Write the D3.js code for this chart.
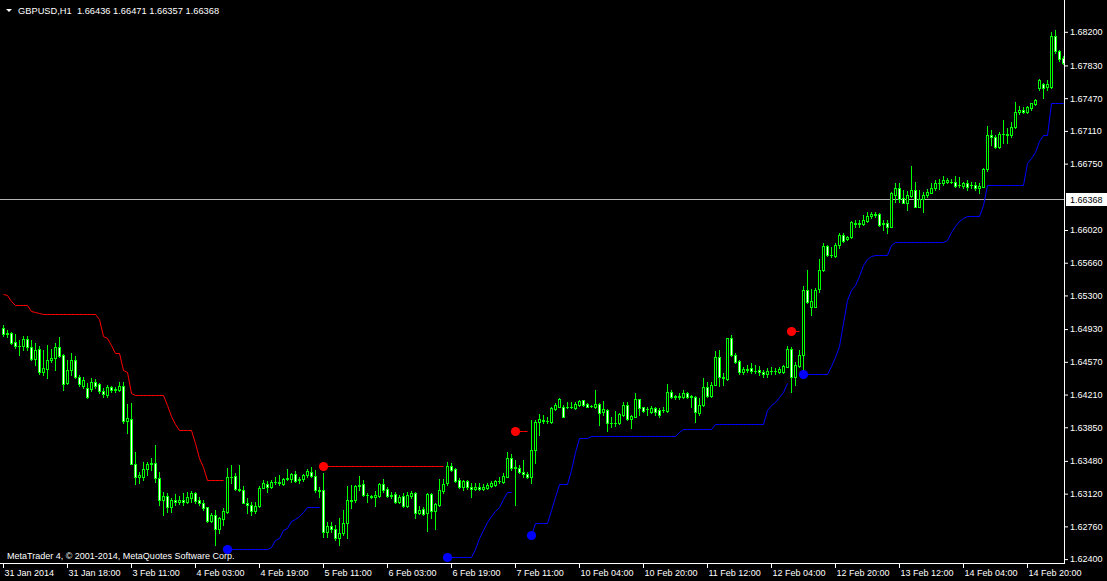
<!DOCTYPE html>
<html><head><meta charset="utf-8">
<script src="https://cdn.jsdelivr.net/npm/d3@7"></script>
<style>
html,body{margin:0;padding:0;background:#000;overflow:hidden}
svg{display:block}
text{font-family:"Liberation Sans",Arial,sans-serif;font-size:9px;fill:#fff}
</style>
</head><body>
<svg id="chart" width="1107" height="581"></svg>
<script>
const symbolTitle = "GBPUSD,H1  1.66436 1.66471 1.66357 1.66368";
const footerText = "MetaTrader 4, \u00a9 2001-2014, MetaQuotes Software Corp.";
const currentPrice = 1.66368;

const opens = [1.64942,1.64876,1.64887,1.64788,1.64744,1.64744,1.64821,1.64733,1.64601,1.64711,
1.64458,1.64491,1.64590,1.64612,1.64733,1.64645,1.64337,1.64480,1.64590,1.64403,
1.64304,1.64282,1.64271,1.64348,1.64326,1.64249,1.64205,1.64293,1.64260,1.64260,
1.64304,1.63919,1.63941,1.63446,1.63303,1.63303,1.63391,1.63446,1.63457,1.63292,
1.63050,1.63094,1.62973,1.63050,1.63028,1.63050,1.63028,1.63072,1.63127,1.63050,
1.63017,1.62973,1.62819,1.62885,1.62731,1.62841,1.62918,1.63303,1.63314,1.63171,
1.63160,1.63017,1.62995,1.62929,1.62984,1.63182,1.63226,1.63193,1.63248,1.63248,
1.63226,1.63281,1.63281,1.63336,1.63270,1.63281,1.63325,1.63358,1.63314,1.63160,
1.63160,1.62698,1.62764,1.62731,1.62632,1.62687,1.62797,1.63050,1.63050,1.63204,
1.63226,1.63105,1.63094,1.63083,1.63094,1.63226,1.63171,1.63094,1.63116,1.63028,
1.63094,1.62984,1.63094,1.63127,1.62907,1.62951,1.62907,1.63116,1.62929,1.62995,
1.63149,1.63237,1.63424,1.63391,1.63270,1.63193,1.63259,1.63193,1.63171,1.63193,
1.63171,1.63182,1.63204,1.63215,1.63259,1.63248,1.63303,1.63512,1.63402,1.63402,
1.63358,1.63336,1.63303,1.63600,1.63908,1.63930,1.63919,1.63908,1.64051,1.64073,
1.64073,1.64073,1.64073,1.64062,1.64095,1.64150,1.64106,1.64084,1.64073,1.64106,
1.64018,1.64040,1.63897,1.63897,1.63897,1.63985,1.64095,1.63941,1.63963,1.64161,
1.64073,1.64051,1.64018,1.64062,1.64040,1.64040,1.64029,1.64238,1.64183,1.64194,
1.64183,1.64227,1.64194,1.64183,1.64007,1.64095,1.64293,1.64194,1.64315,1.64623,
1.64403,1.64381,1.64832,1.64645,1.64579,1.64458,1.64491,1.64502,1.64469,1.64480,
1.64458,1.64436,1.64469,1.64469,1.64458,1.64458,1.64513,1.64711,1.64403,1.64524,
1.64645,1.65360,1.65173,1.65173,1.65371,1.65580,1.65844,1.65745,1.65734,1.65855,
1.65965,1.65921,1.65943,1.66097,1.66086,1.66086,1.66119,1.66174,1.66196,1.66196,
1.66086,1.66097,1.66053,1.66405,1.66482,1.66372,1.66317,1.66394,1.66460,1.66273,
1.66361,1.66405,1.66427,1.66482,1.66537,1.66537,1.66548,1.66548,1.66548,1.66515,
1.66504,1.66537,1.66515,1.66515,1.66482,1.66493,1.66691,1.67065,1.67043,1.66933,
1.67076,1.67065,1.67065,1.67153,1.67318,1.67340,1.67318,1.67362,1.67406,1.67582,
1.67626,1.67593,1.67593,1.68154,1.67989,1.67912];

const highs = [1.64975,1.64920,1.64898,1.64876,1.64810,1.64854,1.64854,1.64810,1.64777,1.64744,
1.64700,1.64755,1.64711,1.64777,1.64843,1.64656,1.64590,1.64667,1.64634,1.64425,
1.64403,1.64337,1.64392,1.64381,1.64337,1.64282,1.64315,1.64304,1.64293,1.64348,
1.64348,1.64106,1.64117,1.63578,1.63358,1.63468,1.63468,1.63512,1.63655,1.63358,
1.63138,1.63127,1.63072,1.63116,1.63094,1.63127,1.63138,1.63149,1.63138,1.63083,
1.63050,1.62973,1.62907,1.62940,1.62863,1.62962,1.63402,1.63435,1.63347,1.63435,
1.63204,1.63072,1.63028,1.63028,1.63204,1.63270,1.63259,1.63270,1.63303,1.63325,
1.63292,1.63391,1.63347,1.63369,1.63303,1.63336,1.63391,1.63413,1.63380,1.63193,
1.63347,1.62808,1.62808,1.62775,1.62852,1.62940,1.63204,1.63215,1.63215,1.63314,
1.63270,1.63127,1.63105,1.63149,1.63237,1.63281,1.63193,1.63138,1.63138,1.63105,
1.63127,1.63138,1.63149,1.63138,1.62984,1.62973,1.63127,1.63127,1.63017,1.63281,
1.63281,1.63468,1.63457,1.63402,1.63292,1.63270,1.63270,1.63237,1.63237,1.63237,
1.63226,1.63237,1.63259,1.63270,1.63303,1.63347,1.63578,1.63556,1.63490,1.63435,
1.63490,1.63358,1.63930,1.63930,1.63996,1.63985,1.63963,1.64073,1.64117,1.64172,
1.64095,1.64128,1.64128,1.64128,1.64150,1.64150,1.64117,1.64095,1.64260,1.64117,
1.64139,1.64051,1.63963,1.64029,1.64007,1.64128,1.64128,1.63985,1.64227,1.64161,
1.64073,1.64073,1.64084,1.64073,1.64062,1.64073,1.64326,1.64260,1.64205,1.64227,
1.64260,1.64238,1.64205,1.64194,1.64172,1.64392,1.64348,1.64348,1.64689,1.64700,
1.64447,1.64832,1.64865,1.64667,1.64590,1.64513,1.64535,1.64557,1.64535,1.64524,
1.64480,1.64502,1.64513,1.64502,1.64513,1.64535,1.64744,1.64733,1.64568,1.64700,
1.65404,1.65580,1.65371,1.65382,1.65701,1.65877,1.65855,1.65833,1.65877,1.65987,
1.65987,1.65954,1.66119,1.66130,1.66130,1.66185,1.66218,1.66218,1.66218,1.66207,
1.66130,1.66130,1.66438,1.66537,1.66537,1.66460,1.66449,1.66724,1.66548,1.66460,
1.66438,1.66471,1.66537,1.66570,1.66581,1.66614,1.66592,1.66581,1.66614,1.66603,
1.66548,1.66570,1.66548,1.66548,1.66537,1.66702,1.67164,1.67120,1.67065,1.67098,
1.67230,1.67142,1.67208,1.67428,1.67384,1.67373,1.67384,1.67417,1.67461,1.67681,
1.67637,1.67670,1.68198,1.68220,1.68000,1.67934];

const lows = [1.64854,1.64843,1.64766,1.64722,1.64645,1.64700,1.64700,1.64590,1.64535,1.64436,
1.64425,1.64392,1.64568,1.64480,1.64623,1.64260,1.64326,1.64425,1.64392,1.64304,
1.64282,1.64172,1.64249,1.64282,1.64227,1.64183,1.64183,1.64238,1.64238,1.64249,
1.63897,1.63787,1.63446,1.63226,1.63237,1.63270,1.63325,1.63380,1.63248,1.62995,
1.62885,1.62918,1.62918,1.62995,1.63006,1.62995,1.63017,1.63028,1.63017,1.62995,
1.62940,1.62808,1.62808,1.62555,1.62687,1.62775,1.62907,1.63237,1.63160,1.63149,
1.63017,1.62907,1.62885,1.62907,1.62973,1.63182,1.63138,1.63182,1.63226,1.63215,
1.63215,1.63270,1.63248,1.63248,1.63237,1.63259,1.63303,1.63303,1.63138,1.63083,
1.62643,1.62643,1.62698,1.62610,1.62555,1.62665,1.62632,1.62962,1.63028,1.63160,
1.63094,1.63028,1.63072,1.62984,1.63083,1.63138,1.63083,1.63072,1.63017,1.63017,
1.62973,1.62973,1.63072,1.62852,1.62896,1.62885,1.62709,1.62852,1.62731,1.62984,
1.63127,1.63215,1.63369,1.63248,1.63182,1.63160,1.63171,1.63083,1.63160,1.63160,
1.63160,1.63171,1.63193,1.63204,1.63237,1.63237,1.63303,1.63380,1.62995,1.63347,
1.63303,1.63292,1.63237,1.63457,1.63765,1.63897,1.63897,1.63897,1.64040,1.64073,
1.63963,1.64062,1.64062,1.64051,1.64084,1.64084,1.64073,1.64073,1.64062,1.63875,
1.63985,1.63809,1.63853,1.63864,1.63886,1.63974,1.63930,1.63842,1.63963,1.63985,
1.64018,1.63985,1.64007,1.63985,1.63963,1.64018,1.64018,1.64172,1.64161,1.64161,
1.64172,1.64172,1.64073,1.63908,1.63985,1.64084,1.64183,1.64183,1.64315,1.64304,
1.64315,1.64370,1.64634,1.64557,1.64436,1.64436,1.64458,1.64447,1.64447,1.64425,
1.64403,1.64403,1.64436,1.64436,1.64447,1.64447,1.64513,1.64238,1.64315,1.64513,
1.64480,1.65217,1.65085,1.65173,1.65338,1.65569,1.65734,1.65723,1.65723,1.65822,
1.65888,1.65910,1.65932,1.66053,1.66053,1.66075,1.66108,1.66152,1.66163,1.66064,
1.66020,1.65987,1.66053,1.66328,1.66328,1.66317,1.66240,1.66383,1.66273,1.66273,
1.66218,1.66383,1.66427,1.66460,1.66471,1.66515,1.66537,1.66537,1.66493,1.66493,
1.66482,1.66460,1.66482,1.66460,1.66427,1.66493,1.66669,1.66955,1.66922,1.66922,
1.66977,1.66977,1.67043,1.67142,1.67296,1.67307,1.67307,1.67340,1.67395,1.67560,
1.67472,1.67560,1.67582,1.67967,1.67879,1.67846];

const closes = [1.64876,1.64887,1.64777,1.64744,1.64744,1.64821,1.64733,1.64601,1.64700,1.64458,
1.64502,1.64590,1.64612,1.64733,1.64634,1.64326,1.64480,1.64590,1.64403,1.64326,
1.64370,1.64183,1.64348,1.64304,1.64249,1.64216,1.64293,1.64260,1.64271,1.64304,
1.63919,1.63952,1.63446,1.63303,1.63325,1.63391,1.63446,1.63457,1.63292,1.63050,
1.63094,1.62973,1.63050,1.63028,1.63050,1.63028,1.63083,1.63127,1.63039,1.63017,
1.62962,1.62819,1.62885,1.62731,1.62852,1.62929,1.63303,1.63303,1.63171,1.63160,
1.63017,1.62995,1.62929,1.62984,1.63182,1.63237,1.63193,1.63248,1.63248,1.63237,
1.63281,1.63292,1.63336,1.63259,1.63281,1.63325,1.63369,1.63314,1.63160,1.63149,
1.62698,1.62764,1.62731,1.62632,1.62687,1.62797,1.63050,1.63039,1.63204,1.63215,
1.63105,1.63105,1.63083,1.63105,1.63226,1.63160,1.63094,1.63105,1.63028,1.63083,
1.62984,1.63105,1.63127,1.62907,1.62940,1.62896,1.63116,1.62929,1.63006,1.63160,
1.63226,1.63424,1.63380,1.63259,1.63193,1.63259,1.63193,1.63171,1.63193,1.63171,
1.63193,1.63215,1.63237,1.63259,1.63259,1.63314,1.63512,1.63402,1.63413,1.63358,
1.63336,1.63303,1.63600,1.63908,1.63941,1.63919,1.63919,1.64062,1.64095,1.64161,
1.63963,1.64073,1.64073,1.64106,1.64139,1.64095,1.64073,1.64084,1.64106,1.64007,
1.64051,1.63897,1.63897,1.63897,1.63996,1.64095,1.63941,1.63974,1.64161,1.64062,
1.64029,1.64051,1.64062,1.64018,1.63985,1.64040,1.64238,1.64183,1.64194,1.64183,
1.64227,1.64183,1.64183,1.64018,1.64095,1.64293,1.64194,1.64315,1.64623,1.64403,
1.64392,1.64832,1.64645,1.64568,1.64458,1.64491,1.64480,1.64469,1.64469,1.64458,
1.64436,1.64469,1.64469,1.64469,1.64491,1.64524,1.64711,1.64403,1.64535,1.64645,
1.65360,1.65228,1.65239,1.65360,1.65580,1.65844,1.65745,1.65745,1.65855,1.65965,
1.65899,1.65943,1.66108,1.66086,1.66097,1.66130,1.66174,1.66196,1.66185,1.66075,
1.66097,1.66053,1.66427,1.66482,1.66361,1.66317,1.66405,1.66460,1.66273,1.66361,
1.66405,1.66438,1.66482,1.66537,1.66537,1.66570,1.66570,1.66548,1.66504,1.66515,
1.66537,1.66493,1.66515,1.66482,1.66504,1.66691,1.67065,1.67043,1.66933,1.67076,
1.67076,1.67076,1.67153,1.67318,1.67340,1.67318,1.67373,1.67417,1.67450,1.67670,
1.67582,1.67626,1.68154,1.67989,1.67901,1.67857];

// trailing stop segments: [first bar index, values per bar]
const redStops = [
 [0, [1.65316,1.65305,1.65239,1.65195,1.65195,1.65195,1.65195,1.65129,1.65118,1.65107,
      1.65096,1.65096,1.65096,1.65096,1.65096,1.65096,1.65096,1.65096,1.65096,1.65096,1.65096,1.65096,1.65096,1.65096,
      1.65041,1.64854,1.64832,1.64755,1.64667,1.64667,1.64480,1.64458,1.64227,
      1.64205,1.64205,1.64205,1.64205,1.64205,1.64205,1.64205,1.64205,
      1.64095,1.63974,1.63886,1.63820,1.63820,1.63820,1.63820,1.63677,1.63512,1.63413,
      1.63270,1.63270,1.63270,1.63270,1.63270]],
 [80, [1.63424,1.63424,1.63424,1.63424,1.63424,1.63424,1.63424,1.63424,1.63424,1.63424,
       1.63424,1.63424,1.63424,1.63424,1.63424,1.63424,1.63424,1.63424,1.63424,1.63424,
       1.63424,1.63424,1.63424,1.63424,1.63424,1.63424,1.63424,1.63424,1.63424,1.63424,1.63424]],
 [128, [1.63809,1.63809,1.63809,1.63809]],
 [197, [1.64909,1.64909,1.64909]]
];
const blueStops = [
 [56, [1.62511,1.62511,1.62511,1.62511,1.62511,1.62511,1.62511,1.62511,1.62511,1.62511,1.62511,
       1.62533,1.62610,1.62632,1.62720,1.62742,1.62819,1.62841,1.62874,1.62918,
       1.62973,1.62973,1.62973,1.62973]],
 [111, [1.62423,1.62423,1.62423,1.62423,1.62423,1.62423,1.62423,
        1.62511,1.62632,1.62720,1.62808,1.62874,1.62929,1.62973,1.63061,1.63138,1.63138]],
 [132, [1.62665,1.62797,1.62797,1.62797,1.62797,1.62940,1.63083,1.63226,1.63226,1.63226,
        1.63380,1.63578,1.63732,1.63732,1.63732,
        1.63754,1.63754,1.63754,1.63754,1.63754,1.63754,1.63754,1.63754,1.63754,1.63754,1.63754,
        1.63754,1.63754,1.63754,1.63754,1.63754,1.63754,1.63754,1.63754,1.63754,1.63754,1.63754,
        1.63798,1.63831,1.63831,1.63831,1.63831,1.63831,1.63831,1.63831,1.63831,
        1.63886,1.63886,1.63886,1.63886,1.63886,1.63886,1.63886,1.63886,1.63886,1.63886,1.63886,1.63886,1.63886,
        1.64040,1.64095,1.64128,1.64183,1.64238,1.64337]],
 [200, [1.64436,1.64436,1.64436,1.64436,1.64436,1.64436,1.64436,
        1.64524,1.64623,1.64744,1.64997,1.65250,1.65360,1.65415,1.65514,1.65635,1.65701,1.65734,
        1.65745,1.65745,1.65745,1.65745,1.65855,
        1.65888,1.65888,1.65888,1.65888,1.65888,1.65888,1.65888,1.65888,1.65888,1.65888,1.65888,1.65888,1.65888,
        1.65910,1.65998,1.66064,1.66119,1.66152,1.66174,1.66174,1.66174,1.66174,1.66295,
        1.66515,1.66515,1.66515,1.66515,1.66515,1.66515,1.66515,1.66515,1.66515,1.66515,
        1.66757,1.66812,1.66878,1.66999,1.67065,1.67065,1.67417,1.67417,1.67417,1.67417]]
];
const redDotBars = [80, 128, 197];
const blueDotBars = [56, 111, 132, 200];

const priceTicks = [1.68200,1.67830,1.67470,1.67110,1.66750,1.66020,1.65660,1.65300,1.64930,1.64570,1.64210,1.63850,1.63480,1.63120,1.62760,1.62400];
const timeTickBars = [0,16,32,48,64,80,96,112,128,144,160,176,192,208,224,240,256];
const timeTickLabels = ["31 Jan 2014","31 Jan 18:00","3 Feb 11:00","4 Feb 03:00","4 Feb 19:00","5 Feb 11:00","6 Feb 03:00","6 Feb 19:00","7 Feb 11:00","10 Feb 04:00","10 Feb 20:00","11 Feb 12:00","12 Feb 04:00","12 Feb 20:00","13 Feb 12:00","14 Feb 04:00","14 Feb 20:00"];

const W = 1107, H = 581, plotR = 1064, plotB = 563;
const FONT = '"Liberation Sans",Arial,sans-serif';
const svg = d3.select("#chart");
svg.append("rect").attr("width", W).attr("height", H).attr("fill", "#000");

const x = d3.scaleLinear().domain([0, 265]).range([3, 1063]);
const y = d3.scaleLinear().domain([1.624, 1.682]).range([559.1, 31.8]);

svg.append("defs").append("clipPath").attr("id", "plotclip")
  .append("rect").attr("x", 0).attr("y", 0).attr("width", plotR).attr("height", plotB);
const plot = svg.append("g").attr("clip-path", "url(#plotclip)");

// current price line
const cpY = Math.round(y(currentPrice)) + 1;
plot.append("line").attr("x1", 0).attr("x2", plotR)
  .attr("y1", cpY + 0.5).attr("y2", cpY + 0.5)
  .attr("stroke", "#b4b4b4").attr("stroke-width", 1);

// candles
const bars = d3.range(closes.length);
const cg = plot.append("g");
bars.forEach(i => {
  const cx = Math.round(x(i));
  const o = opens[i], c = closes[i];
  const hi = Math.max(highs[i], o, c), lo = Math.min(lows[i], o, c);
  const yh = Math.round(y(hi)), yl = Math.round(y(lo));
  cg.append("rect").attr("x", cx).attr("y", yh).attr("width", 1).attr("height", yl - yh + 1)
    .attr("fill", "#00ff00");
  const top = Math.round(y(Math.max(o, c))), bot = Math.round(y(Math.min(o, c)));
  if (bot - top < 1) {
    cg.append("rect").attr("x", cx - 1).attr("y", top).attr("width", 3).attr("height", 1)
      .attr("fill", "#00ff00");
  } else {
    cg.append("rect").attr("x", cx - 0.5).attr("y", top + 0.5)
      .attr("width", 2).attr("height", bot - top)
      .attr("fill", c < o ? "#ffffff" : "#000000").attr("stroke", "#00ff00");
  }
});

// trailing stop lines
const stopLine = d3.line().x(d => Math.round(x(d[0])) + 0.5).y(d => Math.round(y(d[1])) + 0.5);
function drawStops(segs, color, dotBars) {
  const lookup = new Map();
  segs.forEach(([start, vals]) => {
    const pts = vals.map((v, k) => [start + k, v]);
    pts.forEach(p => lookup.set(p[0], p[1]));
    plot.append("path").attr("d", stopLine(pts)).attr("fill", "none")
      .attr("stroke", color).attr("stroke-width", 1);
  });
  dotBars.forEach(b => {
    plot.append("circle").attr("cx", Math.round(x(b)) + 0.5).attr("cy", Math.round(y(lookup.get(b))) + 0.5)
      .attr("r", 4.6).attr("fill", color);
  });
}
drawStops(redStops, "#ff0000", redDotBars);
drawStops(blueStops, "#0000ff", blueDotBars);

// frame
svg.append("line").attr("x1", plotR + 0.5).attr("x2", plotR + 0.5).attr("y1", 0).attr("y2", plotB + 1)
  .attr("stroke", "#fff");
svg.append("line").attr("x1", 0).attr("x2", plotR + 1).attr("y1", plotB + 0.5).attr("y2", plotB + 0.5)
  .attr("stroke", "#fff");

// right price axis
const yAxis = d3.axisRight(y).tickValues(priceTicks).tickFormat(d3.format(".5f"))
  .tickSize(4).tickPadding(2).tickSizeOuter(0);
const ya = svg.append("g").attr("transform", `translate(${plotR},0)`).call(yAxis);
ya.select(".domain").remove();
ya.selectAll(".tick line").attr("stroke", "#fff");
ya.selectAll(".tick text").attr("fill", "#fff").style("font-family", FONT).style("font-size", "9px");

// bottom time axis
const xAxis = d3.axisBottom(x).tickValues(timeTickBars).tickFormat((d, i) => timeTickLabels[i])
  .tickSize(5).tickPadding(2).tickSizeOuter(0);
const xa = svg.append("g").attr("transform", `translate(0,${plotB})`).call(xAxis);
xa.select(".domain").remove();
xa.selectAll(".tick line").attr("stroke", "#fff");
xa.selectAll(".tick text").attr("fill", "#fff").attr("text-anchor", "start").attr("x", 1)
  .style("font-family", FONT).style("font-size", "9px");

// current price label
svg.append("rect").attr("x", plotR + 2).attr("y", cpY - 6).attr("width", W - plotR - 2).attr("height", 13).attr("fill", "#fff");
svg.append("text").attr("x", plotR + 6).attr("y", cpY + 4).style("fill", "#000").text(d3.format(".5f")(currentPrice));

// title
svg.append("path").attr("d", "M6,9 L12,9 L9,12 Z").attr("fill", "#fff");
svg.append("text").attr("x", 18).attr("y", 14).style("white-space", "pre").style("font-size", "9.3px").text(symbolTitle);

// footer
svg.append("text").attr("x", 7).attr("y", 559).text(footerText);
</script>
</body></html>
